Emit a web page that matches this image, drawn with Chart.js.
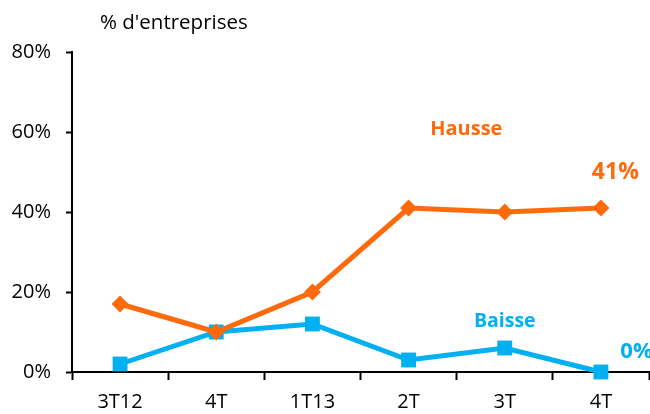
<!DOCTYPE html>
<html>
<head>
<meta charset="utf-8">
<script src="https://cdn.jsdelivr.net/npm/chart.js@4"></script>
<style>
  html, body { margin: 0; padding: 0; background: #fff; }
  #wrap { width: 650px; height: 414px; }
</style>
</head>
<body>
<div id="wrap"><canvas id="myChart"></canvas></div>
<script>
const categories = ['3T12', '4T', '1T13', '2T', '3T', '4T'];
const hausse = [17, 10, 20, 41, 40, 41];
const baisse = [2, 10, 12, 3, 6, 0];
const yTicks = [0, 20, 40, 60, 80];

const orange = '#FF6A0D';
const blue = '#00B0F0';
const fontFamily = '"Open Sans", Lato, sans-serif';

// titre et étiquettes dessinés après le graphique
const labelsPlugin = {
    id: 'labels',
    afterDraw(chart) {
        const ctx = chart.ctx;
        const x = chart.scales.x;
        const y = chart.scales.y;
        ctx.save();
        ctx.textBaseline = 'middle';
        ctx.fillStyle = '#000';
        ctx.font = '20.5px ' + fontFamily;
        ctx.textAlign = 'left';
        ctx.fillText("% d'entreprises", 100, 23);

        ctx.textAlign = 'center';
        ctx.fillStyle = orange;
        ctx.font = 'bold 20px ' + fontFamily;
        ctx.fillText('Hausse', x.getPixelForValue(3.6), y.getPixelForValue(60.75));
        ctx.font = 'bold 23px ' + fontFamily;
        ctx.fillText(hausse[5] + '%', x.getPixelForValue(5.15), y.getPixelForValue(50));

        ctx.fillStyle = blue;
        ctx.font = 'bold 19.5px ' + fontFamily;
        ctx.fillText('Baisse', x.getPixelForValue(4), y.getPixelForValue(12.75));
        ctx.font = 'bold 22px ' + fontFamily;
        ctx.fillText(baisse[5] + '%', x.getPixelForValue(5.37), y.getPixelForValue(5));
        ctx.restore();
    }
};

const ctx = document.getElementById('myChart').getContext('2d');
new Chart(ctx, {
    type: 'line',
    data: {
        labels: categories,
        datasets: [
            {
                label: 'Hausse',
                data: hausse,
                borderColor: orange,
                backgroundColor: orange,
                borderWidth: 5,
                pointStyle: 'rectRot',
                pointRadius: 8.5,
                pointBorderWidth: 0,
                tension: 0
            },
            {
                label: 'Baisse',
                data: baisse,
                borderColor: blue,
                backgroundColor: blue,
                borderWidth: 5,
                pointStyle: 'rect',
                pointRadius: 10.5,
                pointBorderWidth: 0,
                tension: 0,
                clip: false
            }
        ]
    },
    options: {
        responsive: true,
        maintainAspectRatio: false,
        animation: false,
        layout: { autoPadding: false, padding: { top: 52, right: 1, left: 0, bottom: 0 } },
        plugins: {
            legend: { display: false },
            tooltip: { enabled: false }
        },
        scales: {
            x: {
                offset: true,
                grid: {
                    offset: true,
                    drawOnChartArea: false,
                    tickLength: 8,
                    tickWidth: 2,
                    color: '#000'
                },
                border: { color: '#000', width: 2 },
                ticks: {
                    color: '#000',
                    font: { family: fontFamily, size: 20 },
                    padding: 10,
                    maxRotation: 0
                },
                afterFit(scale) {
                    scale.height = 42;
                    scale.paddingLeft = 0;
                    scale.paddingRight = 0;
                }
            },
            y: {
                min: 0,
                max: 80,
                afterBuildTicks(scale) {
                    scale.ticks = yTicks.map(v => ({ value: v }));
                },
                grid: {
                    drawOnChartArea: false,
                    tickLength: 6,
                    tickWidth: 2,
                    color: '#000'
                },
                border: { color: '#000', width: 2 },
                ticks: {
                    color: '#000',
                    font: { family: fontFamily, size: 20 },
                    padding: 15,
                    callback: v => v + '%'
                },
                afterFit(scale) {
                    scale.width = 72;
                    scale.paddingTop = 0;
                    scale.paddingBottom = 0;
                }
            }
        }
    },
    plugins: [labelsPlugin]
});
</script>
</body>
</html>
